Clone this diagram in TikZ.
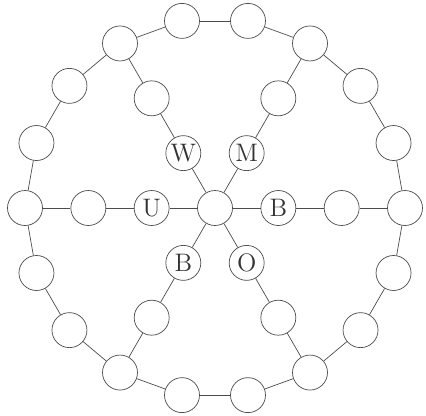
\documentclass[tikz,border=0pt]{standalone}
\begin{document}
\begin{tikzpicture}[
  spot/.style={circle,draw=black!70,fill=white,minimum size=0.7cm,inner sep=0pt,
    font=\Large,text=black!80},
  link/.style={draw=black!70,thin}]
  \useasboundingbox (-4.3,-4.14) rectangle (4.22,4.16);
  \node[spot] (hub) at (0,0) {};
  % outer ring
  \foreach \i in {0,...,17} {
    \node[spot] (rim\i) at (\i*20:3.8) {};
  }
  \foreach \i [remember=\i as \p (initially 17)] in {0,...,17} {
    \draw[link] (rim\p) -- (rim\i);
  }
  % spokes
  \foreach \a/\k/\t in {0/0/B,60/3/M,120/6/W,180/9/U,240/12/B,300/15/O} {
    \node[spot] (in\k) at (\a:1.267) {\t};
    \node[spot] (mid\k) at (\a:2.533) {};
    \draw[link] (hub) -- (in\k) -- (mid\k) -- (rim\k);
  }
\end{tikzpicture}
\end{document}
